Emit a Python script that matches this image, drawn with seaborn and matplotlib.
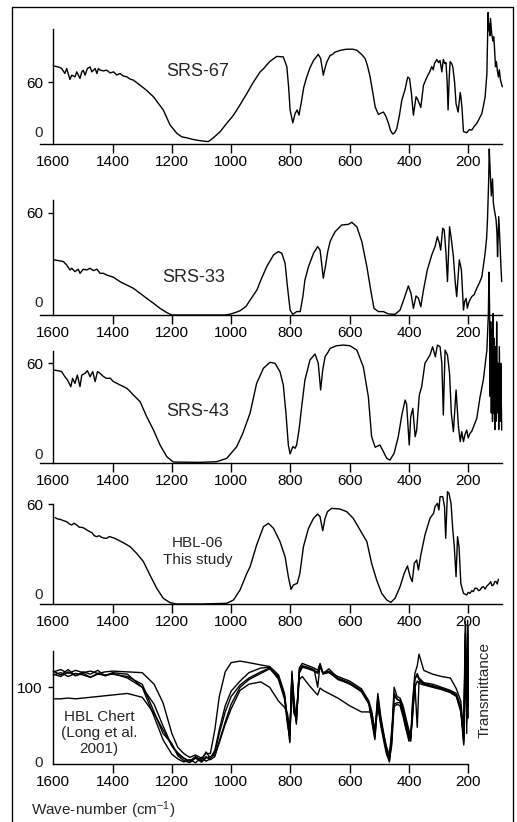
import matplotlib
matplotlib.use("Agg")
import matplotlib.pyplot as plt
import seaborn as sns
from matplotlib.lines import Line2D

# ---------------- data ----------------
srs67_wn = [1600,1583,1572,1561,1555,1544,1538,1527,1521,1510,1504,1499,1493,1485,1476,1470,1459,1453,1448,1442,
            1431,1420,1408,1397,1386,1375,1364,1352,1341,1330,1307,1285,1262,1229,1206,1183,1167,1150,1130,1105,
            1077,1060,1037,1015,992,970,947,925,902,891,870,846,824,812,806,801,792,784,777,771,762,755,745,734,
            722,706,698,689,683,677,666,657,651,630,610,590,576,560,548,540,531,522,514,503,494,486,478,469,462,
            455,448,441,432,424,413,408,404,398,392,385,380,376,372,366,360,351,340,330,323,318,314,306,300,295,
            289,284,279,275,271,268,264,261,256,252,246,241,234,230,227,224,221,216,205,196,188,180,171,162,154,
            148,143,137,133,131,129,127,125,121,117,114,112,108,105,101,98,95,91,85]
srs67_t = [75.8,74.8,73.3,68.4,73.3,62.6,66.8,65.2,70,63.6,70,71.6,66.8,73.3,74.8,70,73.3,68.4,73.3,71.6,
           71,71.6,69,70,67,68.4,66,65.2,63,62,57,52,45.8,33,18.4,10.3,7,6,4.5,3.2,
           2.3,6,12,20,28,38,49,60,70,73,80,85,84.5,75,55,33,20.6,29.7,33,28,42.6,55,65,74,
           81,87,83,66.8,74,79.7,86,87,89,91,92,92,91,87,83,76,65,50,36,28.7,30,31,27,20,13,
           9.7,11,15,28,42.6,53,60,65,63.6,50,28,38,45.8,44,40,35.5,57,64.5,70,75,72,78,82,79,81,
           70,82,78,79,60,33,65,80,78,75,60,39,31,42,50,44,35,12,11,14,13.5,17,20,25,29.7,
           38,45.8,68,127.5,110,116.8,105,122,108,100,104,97,75,80,70,65,72,62,55.5]

srs33_wn = [1598,1583,1566,1555,1544,1538,1527,1516,1510,1499,1487,1476,1465,1453,1442,1431,1420,1397,1375,1352,
            1330,1307,1285,1262,1240,1217,1200,1105,1020,1003,985,970,950,936,913,902,880,857,841,829,
            818,810,801,792,779,767,758,751,739,722,708,700,694,689,682,674,666,661,649,627,
            604,593,576,559,542,529,518,503,486,469,447,430,416,402,393,385,376,368,360,351,
            338,323,312,304,297,293,286,281,275,270,263,258,250,244,239,230,223,216,212,207,
            203,199,194,188,180,171,162,154,148,143,138,135,131,129,126,122,118,115,112,108,
            106,103,101,97,93,90,87]
srs33_t = [32.4,32,31.4,29.4,26.5,27.5,25.5,26.9,24.5,26.9,26.5,27.5,26.1,26.9,24.5,24.5,23.5,22.2,19.6,17.6,
           15.7,12.7,9.8,6.9,3.9,1.4,0,0,0,0.5,1.5,2.5,5,8.8,14.7,19.6,28.4,35.3,37.3,36.3,
           30.4,16.7,2.9,0.4,2,2,10.8,20.6,28.4,36.3,40.2,38.2,29.4,21.6,28.4,37.3,43.1,45.1,49,52.9,
           53.3,54.5,51.9,43.1,28.4,14.7,3.9,2,2,0.6,0.4,2.9,9.8,17.1,12.7,3.9,11.2,9.8,4.9,14.7,
           26.5,35.3,40.2,46,42,38.2,51,50,36.3,19.6,51.9,46,34.3,19.6,10.8,32.4,26.5,2.9,8,9.8,
           4,6.9,9,10.8,12,15.7,19,22.5,30,36.3,45,55.9,79,97.6,85,70,80,65.7,62,58,
           55.9,48,34.3,57.8,43.1,30,19.6]

srs43_wn = [1598,1583,1572,1561,1552,1541,1535,1527,1519,1510,1504,1493,1485,1476,1467,1459,1451,1442,1431,1420,
            1408,1397,1386,1375,1364,1352,1341,1330,1307,1285,1262,1240,1217,1195,1105,1049,1015,981,960,936,
            914,891,869,852,835,824,815,807,801,792,784,779,771,762,751,734,717,706,698,691,
            683,672,666,644,621,599,576,554,537,526,514,498,486,475,464,450,436,424,413,408,
            399,394,387,379,374,365,357,346,329,320,311,304,295,289,284,278,270,263,257,250,
            241,233,227,222,216,211,205,200,194,188,182,171,160,149,137,132,130,128,126,124,
            122,120,118,116,114,112,110,108,106,104,102,100,97,95,92,90,87]
srs43_t = [55.9,55.5,55,51.9,49.9,45.9,50.9,47.9,52.9,45.9,52.9,53.9,55.5,51.9,55,48.9,55,53.9,52,50.9,
           51,48.9,48,46.9,46,44.9,43,40.9,36.8,27.8,19.7,10.7,3.6,0.4,0.2,0.6,2.6,9.7,18,30,
           47.9,57,60.6,60,54.9,46.9,29.8,10.7,5.3,9.7,8.7,10.7,19.7,33.8,49.9,62,65.6,60,43.9,55.9,
           64,67,69,70.6,71,70.6,68,57.9,39.8,15.7,9.3,10.7,6.6,2.6,1.6,5.7,15.7,28.8,37.8,35.4,
           10.7,27.8,32.8,15.7,19.7,40.9,45.9,60,65,70,63.9,71,70,60,28.8,68,65,53.9,29.8,18.7,
           43.9,21.7,12.7,18.7,12.7,17,19.7,15,17.7,19,21.7,26.8,39.8,49.9,68,90,115,95,40,85,
           30,80,25,90,30,75,20,70,25,85,30,60,20,70,25,60,19.7]

hbl06_wn = [1594,1585,1577,1566,1555,1546,1538,1530,1521,1512,1504,1496,1487,1478,1470,1462,1454,1445,1437,1428,
            1420,1411,1403,1394,1386,1364,1341,1319,1296,1274,1251,1229,1206,1184,1100,1015,992,970,947,936,
            914,891,874,857,835,818,807,798,790,777,768,756,739,722,708,700,691,683,675,661,
            633,610,588,565,542,526,509,492,475,461,447,430,416,405,396,389,382,374,368,360,
            346,329,317,312,304,299,295,286,280,276,270,265,258,252,247,241,236,231,225,216,
            205,200,194,188,183,177,171,165,160,154,149,143,137,130,124,120,115,110,106,102,98]
hbl06_t = [51.8,51,50.8,50,49.4,48,47.4,48.5,47.4,46,46,45.5,44.4,43.5,42.8,41,40.4,41,40,39.5,
           39.4,40.5,40,39.5,38.8,36.8,34.4,30.4,25.4,17.4,9.4,3.4,0.8,0,0,0.4,2.4,8.4,18.4,22.4,
           35.4,46.4,48.4,45.4,37.4,28.4,16.4,8.8,11.4,12.4,18.4,34.4,45.4,51.4,54,52.4,44,51.4,55.4,57.4,
           57,55.4,51.4,44.4,37.4,24.4,14.4,6.4,2.4,1,3.4,10.4,18.4,22.8,16.4,13.4,24.4,26.4,20.4,29.4,
           41.4,51.4,54.4,58.4,60.4,56.4,64.4,64.4,58.4,39.4,67.4,66.4,60.4,44.4,34.4,16.4,40.4,34.4,12.4,6.4,
           5.4,7,6.4,8,7.4,9.5,9.4,8,8.4,10,10.4,9,10.8,12,13.4,11,11.4,13.5,13.4,12,14.8]

chert_wn = [1600,1575,1550,1525,1500,1475,1450,1425,1400,1350,1300,1260,1230,1200,1180,1160,1140,1120,1100,1085,
            1070,1055,1040,1020,1000,970,940,900,870,840,820,810,802,795,788,780,770,760,740,720,
            708,700,690,670,640,600,560,535,525,515,505,495,485,475,466,458,450,440,430,420,
            410,400,394,388,380,372,366,350,320,290,260,240,225,215,210,205,202,200]
chert_a = [120,123,118,122,119,121,118,120,121,120,119,104,80,40,22,14,9,12,8,14,14,45,88,120,132,
           134,132,129,127,116,92,58,28,121,80,52,125,131,128,125,122,131,119,121,114,108,98,82,68,40,92,62,40,18,5,
           40,100,88,86,76,60,44,34,80,118,128,143,122,117,114,112,98,82,40,185,70,180,90]
chert_b = [116,119,114,118,116,113,118,115,119,117,100,78,50,24,15,8,4,10,5,16,8,18,45,76,95,
           108,119,125,126,110,85,52,35,112,70,58,120,127,125,123,100,129,118,124,112,106,96,80,60,35,85,55,35,14,3,
           30,88,85,82,70,52,36,30,70,110,118,112,106,104,100,96,92,75,28,160,40,170,60]
chert_c = [117,114,120,115,118,113,117,116,117,114,104,68,40,27,11,5,2,8,3,10,6,10,30,55,78,
           100,110,118,124,112,88,56,40,115,75,62,118,126,124,121,118,128,117,120,110,105,94,78,55,32,80,50,30,12,6,
           25,78,80,80,66,46,34,36,60,105,48,108,104,101,99,94,90,70,35,150,65,120,75]
chert_d = [121,116,123,115,120,117,122,115,118,112,100,62,32,13,7,3,6,2,9,4,7,15,40,68,88,
           103,112,120,125,114,90,60,30,118,85,55,122,128,126,122,119,127,118,119,111,104,95,79,58,36,88,58,36,16,8,
           35,92,84,83,72,55,40,32,75,112,115,110,105,102,98,95,89,72,32,170,55,150,80]
chert_e = [85,85,86,85,86,87,88,89,90,92,87,66,45,24,13,8,4,9,3,8,10,12,28,52,72,
           96,104,107,100,82,74,66,45,100,66,60,110,114,104,95,90,99,96,92,86,76,68,68,66,45,75,52,38,22,12,
           45,75,78,76,62,46,30,38,65,100,108,105,103,100,97,93,88,68,25,140,80,187,75]

x_ticks = [1600, 1400, 1200, 1000, 800, 600, 400, 200]
sample_labels = ["SRS-67", "SRS-33", "SRS-43", "HBL-06", "HBL Chert"]

# ---------------- style ----------------
sns.set_theme(style="white")
plt.rcParams["font.family"] = ["Liberation Sans", "DejaVu Sans"]
plt.rcParams["mathtext.fontset"] = "custom"
plt.rcParams["mathtext.rm"] = "Liberation Sans"
plt.rcParams["mathtext.it"] = "Liberation Sans:italic"
plt.rcParams["axes.linewidth"] = 1.0

W, H = 517, 822
fig = plt.figure(figsize=(W / 100, H / 100), dpi=100)
fig.patch.set_facecolor("white")

X_LEFT, X_RIGHT = 40, 502
XLIM = (1645, 86)
FS = 11


def make_axes(y_bottom, y_top, top_val, ytick, zero_dy, full_x=True):
    ax = fig.add_axes([X_LEFT / W, 1 - y_bottom / H, (X_RIGHT - X_LEFT) / W, (y_bottom - y_top) / H])
    ax.patch.set_alpha(0)
    ax.set_xlim(*XLIM)
    ax.set_ylim(0, top_val)
    for s in ("top", "right"):
        ax.spines[s].set_visible(False)
    ax.spines["left"].set_position(("data", 1600))
    for s in ("left", "bottom"):
        ax.spines[s].set_color("black")
        ax.spines[s].set_linewidth(1.0)
    if not full_x:
        ax.spines["bottom"].set_bounds(200, 1600)
    ax.set_xticks(x_ticks)
    ax.set_xticklabels([str(t) for t in x_ticks])
    ax.set_yticks([ytick])
    ax.set_yticklabels([str(ytick)])
    ax.tick_params(axis="x", direction="out", length=6.5, width=1.0, pad=1.5,
                   labelsize=FS, colors="black", bottom=True)
    ax.tick_params(axis="y", direction="out", length=3.6, width=1.0, pad=4,
                   labelsize=FS, colors="black", left=True)
    ax.xaxis.get_major_ticks()[0].tick1line.set_visible(False)
    ax.annotate("0", xy=(1600, 0), xycoords="data", xytext=(-10, zero_dy),
                textcoords="offset pixels", ha="right", va="center", fontsize=FS,
                annotation_clip=False)
    ax.grid(False)
    return ax


def draw(ax, wn, t):
    sns.lineplot(x=wn, y=t, ax=ax, color="black", linewidth=1.0, sort=False,
                 estimator=None, clip_on=False)
    ax.set_xlabel("")
    ax.set_ylabel("")


ax1 = make_axes(144, 29.3, 111.3, 60, 11)
draw(ax1, srs67_wn, srs67_t)
ax2 = make_axes(315, 200, 67.6, 60, 12)
draw(ax2, srs33_wn, srs33_t)
ax3 = make_axes(462.7, 350.7, 67.6, 60, 8)
draw(ax3, srs43_wn, srs43_t)
ax4 = make_axes(604, 504, 60, 60, 9)
draw(ax4, hbl06_wn, hbl06_t)
ax5 = make_axes(764.3, 650.7, 147.5, 100, 1.5, full_x=False)
for curve in (chert_e, chert_d, chert_c, chert_b, chert_a):
    draw(ax5, chert_wn, curve)


def ftext(x, y, s, **kw):
    fig.text(x / W, 1 - y / H, s, ha="center", va="center", **kw)


ftext(198, 72, sample_labels[0], fontsize=13)
ftext(193.5, 277, sample_labels[1], fontsize=13)
ftext(198, 411, sample_labels[2], fontsize=13)
ftext(198, 543, sample_labels[3], fontsize=FS)
ftext(198, 560, "This study", fontsize=FS)
ftext(99, 717, sample_labels[4], fontsize=FS)
ftext(99, 733, "(Long et al.", fontsize=FS)
ftext(99, 748.5, "2001)", fontsize=FS)
ftext(102.7, 810, "Wave-number (cm$^{-1}$)", fontsize=FS)
ftext(485, 690, "Transmittance", fontsize=FS, rotation=90)

# outer frame (left, top, right edges)
frame_kw = dict(color="black", linewidth=0.95, transform=fig.transFigure)
fig.add_artist(Line2D([12 / W, 12 / W], [0, 1 - 7 / H], **frame_kw))
fig.add_artist(Line2D([12 / W, 513 / W], [1 - 7 / H, 1 - 7 / H], **frame_kw))
fig.add_artist(Line2D([513 / W, 513 / W], [1 - 7 / H, 0], **frame_kw))

fig.savefig("out.png", dpi=100, facecolor="white")
